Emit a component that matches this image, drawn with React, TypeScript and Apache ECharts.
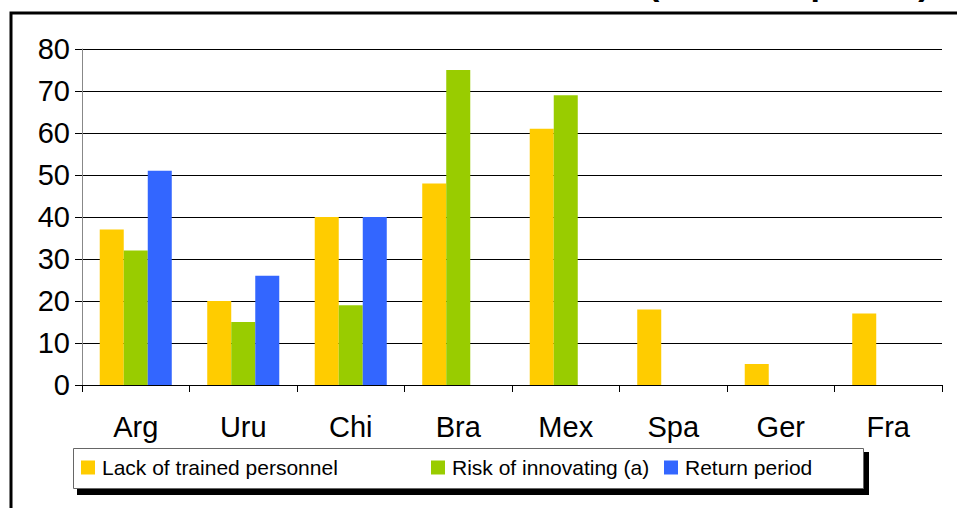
import React, { useEffect, useRef } from "react";
import * as echarts from "echarts";

const categories = ["Arg", "Uru", "Chi", "Bra", "Mex", "Spa", "Ger", "Fra"];
const seriesNames = ["Lack of trained personnel", "Risk of innovating (a)", "Return period"];
const lackOfTrainedPersonnel = [37, 20, 40, 48, 61, 18, 5, 17];
const riskOfInnovating = [32, 15, 19, 75, 69, null, null, null];
const returnPeriod = [51, 26, 40, null, null, null, null, null];
const colors = ["#FFCC00", "#99CC00", "#3366FF"];
const yTicks = { min: 0, max: 80, interval: 10 };
const titleText = "(% of companies)";

export default function App() {
  const ref = useRef<HTMLDivElement>(null);
  useEffect(() => {
    if (!ref.current) return;
    const chart = echarts.init(ref.current, null, { renderer: "svg" });
    const font = "Liberation Sans, Arial, sans-serif";
    const legendPositions = [81, 431, 664];
    chart.setOption({
      animation: false,
      color: colors,
      textStyle: { fontFamily: font },
      grid: { left: 82, right: 15, top: 49, bottom: 123, containLabel: false },
      xAxis: {
        type: "category",
        data: categories,
        axisLine: { lineStyle: { color: "#000", width: 1 } },
        axisTick: { show: true, length: 7, lineStyle: { color: "#000" } },
        axisLabel: { color: "#000", fontSize: 29, fontFamily: font, margin: 27 },
      },
      yAxis: {
        type: "value",
        min: yTicks.min,
        max: yTicks.max,
        interval: yTicks.interval,
        axisLine: { show: true, lineStyle: { color: "#888", width: 1 } },
        axisTick: { show: true, length: 7, lineStyle: { color: "#000" } },
        axisLabel: { color: "#000", fontSize: 29, fontFamily: font, margin: 12 },
        splitLine: { show: true, lineStyle: { color: "#000", width: 1 } },
      },
      legend: seriesNames.map((n, i) => ({
        data: [n],
        left: legendPositions[i],
        top: 457,
        padding: 0,
        itemWidth: 14,
        itemHeight: 14,
        itemGap: 0,
        icon: "rect",
        textStyle: { color: "#000", fontSize: 21, fontFamily: font, padding: [0, 0, 0, 2] },
        z: 10,
      })),
      graphic: [
        {
          type: "rect",
          shape: { x: 11, y: 13, width: 1000, height: 600 },
          style: { fill: "none", stroke: "#000", lineWidth: 3 },
          z: 0,
          silent: true,
        },
        {
          type: "text",
          x: 648,
          y: 0,
          style: {
            text: titleText,
            font: "bold 34px Liberation Sans, Arial, sans-serif",
            fill: "#000",
            verticalAlign: "bottom",
          },
          z: 1,
        },
        {
          type: "rect",
          shape: { x: 77, y: 452, width: 792, height: 43 },
          style: { fill: "#000" },
          z: 1,
        },
        {
          type: "rect",
          shape: { x: 73.5, y: 448.5, width: 790, height: 40 },
          style: { fill: "#fff", stroke: "#666", lineWidth: 1 },
          z: 2,
        },
      ],
      series: [
        { name: seriesNames[0], type: "bar", data: lackOfTrainedPersonnel, barGap: "0%", barCategoryGap: "33%" },
        { name: seriesNames[1], type: "bar", data: riskOfInnovating, barGap: "0%", barCategoryGap: "33%" },
        { name: seriesNames[2], type: "bar", data: returnPeriod, barGap: "0%", barCategoryGap: "33%" },
      ],
    });
    return () => chart.dispose();
  }, []);
  return (
    <div
      ref={ref}
      style={{ position: "absolute", left: 0, top: 0, width: 957, height: 508, background: "#fff" }}
    />
  );
}
